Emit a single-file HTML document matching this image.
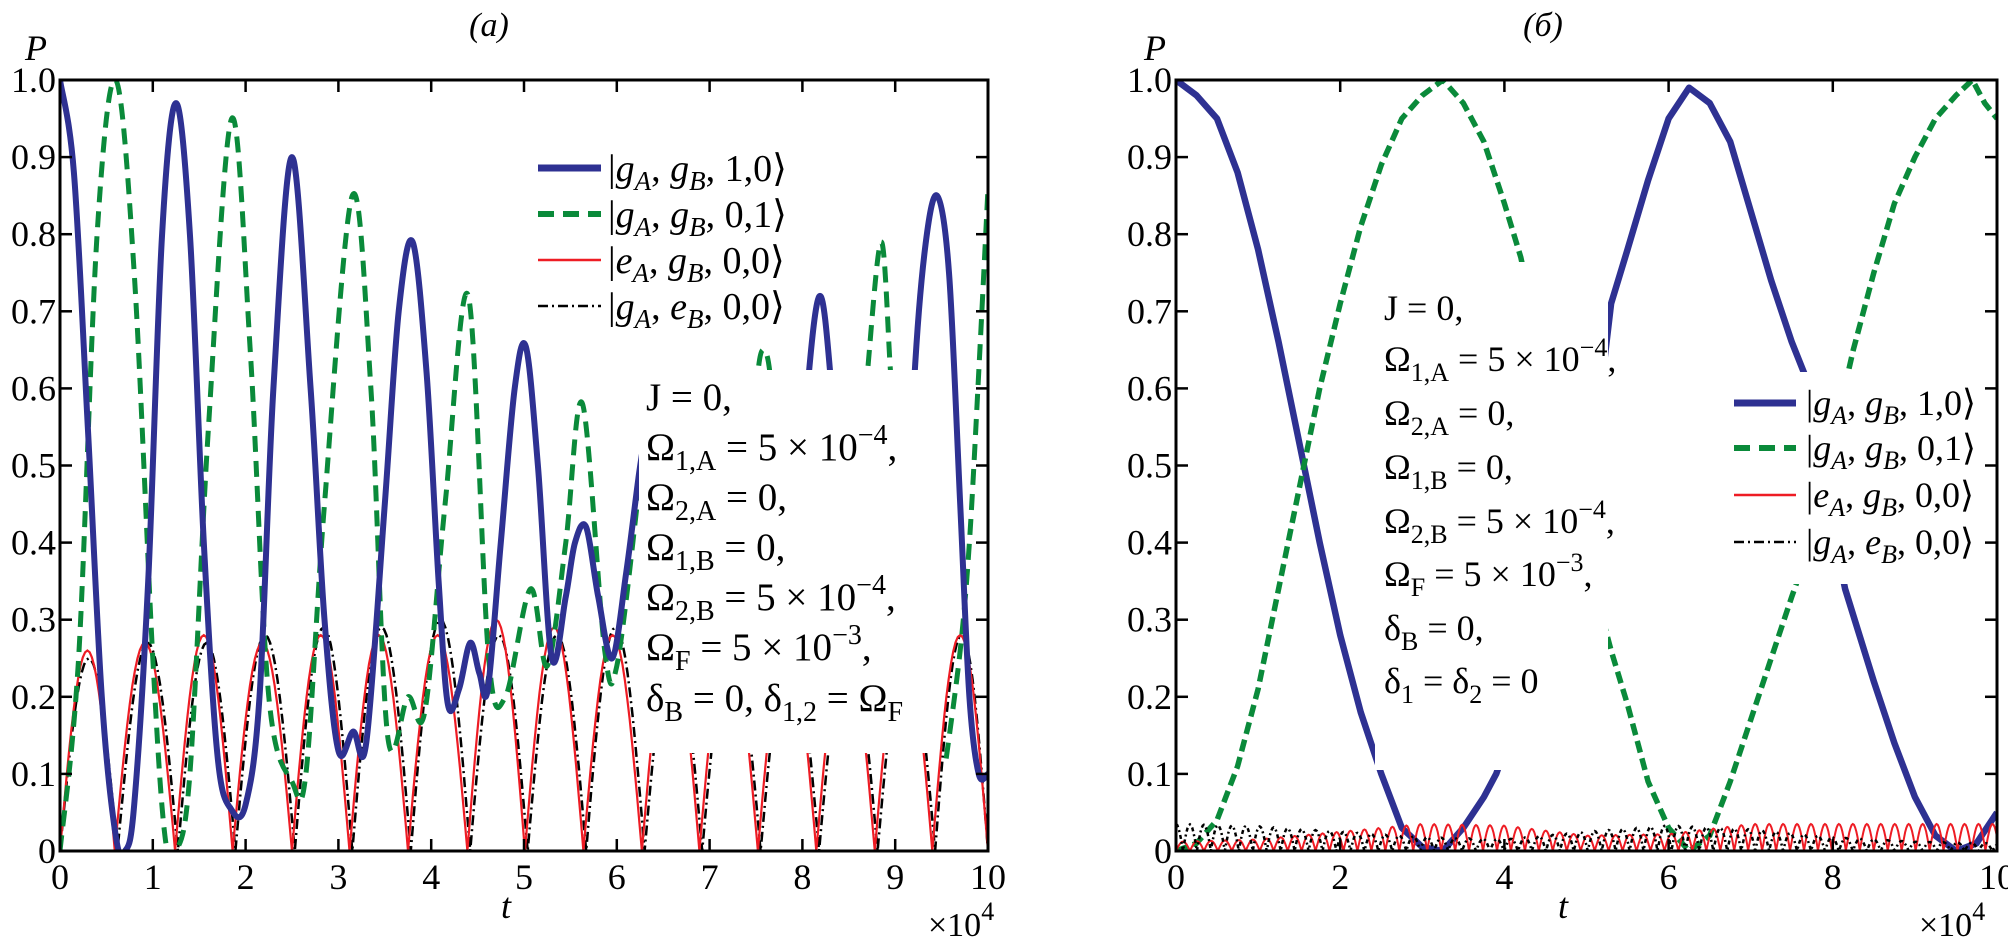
<!DOCTYPE html>
<html><head><meta charset="utf-8">
<style>
html,body{margin:0;padding:0;background:#fff;}
svg{display:block;font-family:"Liberation Serif","DejaVu Serif",serif;}
</style></head>
<body>
<svg id="fig" width="2008" height="942" viewBox="0 0 2008 942" xmlns="http://www.w3.org/2000/svg">
<defs>
<clipPath id="clipL"><rect x="60" y="80" width="928" height="771"/></clipPath>
<clipPath id="clipR"><rect x="1176" y="80" width="821" height="771"/></clipPath>
</defs>
<g id="panelA">
  <text x="489" y="36" font-size="34" font-style="italic" text-anchor="middle">(<tspan>a</tspan>)</text>
  <text x="36" y="60" font-size="36" font-style="italic" text-anchor="middle">P</text>
  <g id="curvesL" clip-path="url(#clipL)"></g>
  <rect x="639" y="370" width="289" height="383" fill="#fff"/>
  <g id="axesL"></g>
  <g font-size="38">
    <g><line x1="538" y1="168" x2="601" y2="168" stroke="#2e3192" stroke-width="7"/><text x="608" y="181">|<tspan font-style="italic">g</tspan><tspan font-style="italic" font-size="27" dy="9">A</tspan><tspan dy="-9">, </tspan><tspan font-style="italic">g</tspan><tspan font-style="italic" font-size="27" dy="9">B</tspan><tspan dy="-9">, 1,0⟩</tspan></text></g>
    <g><line x1="538" y1="214" x2="601" y2="214" stroke="#0a8a3a" stroke-width="6" stroke-dasharray="16 9"/><text x="608" y="227">|<tspan font-style="italic">g</tspan><tspan font-style="italic" font-size="27" dy="9">A</tspan><tspan dy="-9">, </tspan><tspan font-style="italic">g</tspan><tspan font-style="italic" font-size="27" dy="9">B</tspan><tspan dy="-9">, 0,1⟩</tspan></text></g>
    <g><line x1="538" y1="260" x2="601" y2="260" stroke="#ee1c24" stroke-width="2.5"/><text x="608" y="273">|<tspan font-style="italic">e</tspan><tspan font-style="italic" font-size="27" dy="9">A</tspan><tspan dy="-9">, </tspan><tspan font-style="italic">g</tspan><tspan font-style="italic" font-size="27" dy="9">B</tspan><tspan dy="-9">, 0,0⟩</tspan></text></g>
    <g><line x1="538" y1="306" x2="601" y2="306" stroke="#000" stroke-width="2.5" stroke-dasharray="10 4 2 4"/><text x="608" y="319">|<tspan font-style="italic">g</tspan><tspan font-style="italic" font-size="27" dy="9">A</tspan><tspan dy="-9">, </tspan><tspan font-style="italic">e</tspan><tspan font-style="italic" font-size="27" dy="9">B</tspan><tspan dy="-9">, 0,0⟩</tspan></text></g>
  </g>
  <g font-size="39">
    <text x="646" y="410">J = 0,</text>
    <text x="646" y="460">Ω<tspan font-size="28" dy="10">1,A</tspan><tspan dy="-10"> = 5 × 10</tspan><tspan font-size="28" dy="-16">−4</tspan><tspan dy="16">,</tspan></text>
    <text x="646" y="510">Ω<tspan font-size="28" dy="10">2,A</tspan><tspan dy="-10"> = 0,</tspan></text>
    <text x="646" y="560">Ω<tspan font-size="28" dy="10">1,B</tspan><tspan dy="-10"> = 0,</tspan></text>
    <text x="646" y="610">Ω<tspan font-size="28" dy="10">2,B</tspan><tspan dy="-10"> = 5 × 10</tspan><tspan font-size="28" dy="-16">−4</tspan><tspan dy="16">,</tspan></text>
    <text x="646" y="660">Ω<tspan font-size="28" dy="10">F</tspan><tspan dy="-10"> = 5 × 10</tspan><tspan font-size="28" dy="-16">−3</tspan><tspan dy="16">,</tspan></text>
    <text x="646" y="711">δ<tspan font-size="28" dy="10">B</tspan><tspan dy="-10"> = 0, δ</tspan><tspan font-size="28" dy="10">1,2</tspan><tspan dy="-10"> = Ω</tspan><tspan font-size="28" dy="10">F</tspan></text>
  </g>
  <text x="506" y="918" font-size="36" font-style="italic" text-anchor="middle">t</text>
  <text x="928" y="936" font-size="34">×10<tspan font-size="26" dy="-16">4</tspan></text>
</g>

<g id="panelB">
  <text x="1543" y="36" font-size="34" font-style="italic" text-anchor="middle">(б)</text>
  <text x="1155" y="60" font-size="36" font-style="italic" text-anchor="middle">P</text>
  <g id="curvesR" clip-path="url(#clipR)"></g>
  <rect x="1375" y="262" width="233" height="508" fill="#fff"/>
  <rect x="1720" y="372" width="270" height="212" fill="#fff"/>
  <g id="axesR"></g>
  <g font-size="36">
    <g><line x1="1734" y1="403" x2="1796" y2="403" stroke="#2e3192" stroke-width="7"/><text x="1806" y="415">|<tspan font-style="italic">g</tspan><tspan font-style="italic" font-size="26" dy="9">A</tspan><tspan dy="-9">, </tspan><tspan font-style="italic">g</tspan><tspan font-style="italic" font-size="26" dy="9">B</tspan><tspan dy="-9">, 1,0⟩</tspan></text></g>
    <g><line x1="1734" y1="448" x2="1796" y2="448" stroke="#0a8a3a" stroke-width="6" stroke-dasharray="16 9"/><text x="1806" y="460">|<tspan font-style="italic">g</tspan><tspan font-style="italic" font-size="26" dy="9">A</tspan><tspan dy="-9">, </tspan><tspan font-style="italic">g</tspan><tspan font-style="italic" font-size="26" dy="9">B</tspan><tspan dy="-9">, 0,1⟩</tspan></text></g>
    <g><line x1="1734" y1="495" x2="1796" y2="495" stroke="#ee1c24" stroke-width="2.5"/><text x="1806" y="507">|<tspan font-style="italic">e</tspan><tspan font-style="italic" font-size="26" dy="9">A</tspan><tspan dy="-9">, </tspan><tspan font-style="italic">g</tspan><tspan font-style="italic" font-size="26" dy="9">B</tspan><tspan dy="-9">, 0,0⟩</tspan></text></g>
    <g><line x1="1734" y1="542" x2="1796" y2="542" stroke="#000" stroke-width="2.5" stroke-dasharray="10 4 2 4"/><text x="1806" y="554">|<tspan font-style="italic">g</tspan><tspan font-style="italic" font-size="26" dy="9">A</tspan><tspan dy="-9">, </tspan><tspan font-style="italic">e</tspan><tspan font-style="italic" font-size="26" dy="9">B</tspan><tspan dy="-9">, 0,0⟩</tspan></text></g>
  </g>
  <g font-size="36">
    <text x="1384" y="320">J = 0,</text>
    <text x="1384" y="371">Ω<tspan font-size="26" dy="10">1,A</tspan><tspan dy="-10"> = 5 × 10</tspan><tspan font-size="26" dy="-15">−4</tspan><tspan dy="15">,</tspan></text>
    <text x="1384" y="425">Ω<tspan font-size="26" dy="10">2,A</tspan><tspan dy="-10"> = 0,</tspan></text>
    <text x="1384" y="479">Ω<tspan font-size="26" dy="10">1,B</tspan><tspan dy="-10"> = 0,</tspan></text>
    <text x="1384" y="533">Ω<tspan font-size="26" dy="10">2,B</tspan><tspan dy="-10"> = 5 × 10</tspan><tspan font-size="26" dy="-15">−4</tspan><tspan dy="15">,</tspan></text>
    <text x="1384" y="586">Ω<tspan font-size="26" dy="10">F</tspan><tspan dy="-10"> = 5 × 10</tspan><tspan font-size="26" dy="-15">−3</tspan><tspan dy="15">,</tspan></text>
    <text x="1384" y="640">δ<tspan font-size="26" dy="10">B</tspan><tspan dy="-10"> = 0,</tspan></text>
    <text x="1384" y="693">δ<tspan font-size="26" dy="10">1</tspan><tspan dy="-10"> = δ</tspan><tspan font-size="26" dy="10">2</tspan><tspan dy="-10"> = 0</tspan></text>
  </g>
  <text x="1563" y="918" font-size="36" font-style="italic" text-anchor="middle">t</text>
  <text x="1919" y="936" font-size="34">×10<tspan font-size="26" dy="-16">4</tspan></text>
</g>
</svg>
<script>
// ---------- Panel (a) data ----------
const aBlueT = [0,0.15,0.3,0.45,0.6,0.7,0.8,0.95,1.1,1.25,1.4,1.55,1.7,1.85,2.0,2.15,2.3,2.5,2.7,2.85,3.0,3.16,3.3,3.5,3.65,3.8,3.95,4.08,4.18,4.3,4.42,4.52,4.61,4.75,4.9,5.02,5.15,5.3,5.45,5.55,5.67,5.8,5.95,6.1,6.24,6.32,null,7.95,8.07,8.19,8.3,8.42,null,9.1,9.2,9.32,9.45,9.58,9.7,9.8,9.9,10];
const aBlueV = [1.0,0.88,0.55,0.2,0.02,0.0,0.06,0.35,0.8,0.97,0.8,0.4,0.12,0.053,0.06,0.2,0.6,0.9,0.6,0.3,0.13,0.155,0.14,0.45,0.7,0.79,0.62,0.35,0.19,0.21,0.27,0.23,0.21,0.4,0.6,0.654,0.5,0.25,0.33,0.4,0.42,0.33,0.25,0.36,0.49,0.55,null,0.4,0.62,0.72,0.62,0.4,null,0.3,0.6,0.78,0.85,0.75,0.45,0.2,0.1,0.1];
const aGreenT = [0,0.2,0.4,0.6,0.8,1.0,1.13,1.25,1.4,1.6,1.85,2.05,2.25,2.5,2.65,2.85,3.15,3.35,3.53,3.75,3.93,4.15,4.4,4.62,4.8,5.07,5.25,5.45,5.63,5.87,6.0,6.22,6.3,null,7.45,7.52,7.58,7.65,7.72,null,8.62,8.7,8.85,8.95,9.02,null,9.55,9.7,9.8,9.9,10];
const aGreenV = [0,0.25,0.8,1.0,0.75,0.25,0.02,0.0,0.1,0.55,0.95,0.65,0.2,0.09,0.1,0.45,0.85,0.6,0.15,0.2,0.18,0.45,0.72,0.25,0.2,0.34,0.24,0.4,0.58,0.26,0.24,0.45,0.55,null,0.5,0.62,0.65,0.62,0.5,null,0.5,0.62,0.79,0.62,0.5,null,0.12,0.26,0.4,0.62,0.86];
const aRedZeroT = [0,0.59,1.24,1.86,2.5,3.12,3.75,4.39,5.01,5.64,6.27,6.89,7.52,8.15,8.78,9.4,10];
const aRedPeakV = [0.26,0.27,0.28,0.27,0.28,0.28,0.28,0.3,0.29,0.28,0.28,0.28,0.28,0.28,0.28,0.28];
const aBlackZeroT = [0,0.62,1.27,1.89,2.53,3.15,3.78,4.42,5.04,5.67,6.3,6.92,7.55,8.18,8.81,9.43,10];
const aBlackPeakV = [0.25,0.27,0.27,0.28,0.29,0.29,0.3,0.28,0.28,0.29,0.27,0.27,0.27,0.27,0.27,0.28];
const aYTicks = [0,0.1,0.2,0.3,0.4,0.5,0.6,0.7,0.8,0.9,1.0];
const aYTickLabels = ["0","0.1","0.2","0.3","0.4","0.5","0.6","0.7","0.8","0.9","1.0"];
const aXTicks = [0,1,2,3,4,5,6,7,8,9,10];
const aXTickLabels = ["0","1","2","3","4","5","6","7","8","9","10"];

// ---------- Panel (b) data ----------
const bBlueT = [0,0.25,0.5,0.75,1,1.25,1.5,1.75,2,2.25,2.5,2.75,3,3.25,3.5,3.75,3.9,4.0,null,5.2,5.3,5.5,5.75,6,6.25,6.5,6.75,7,7.25,7.5,7.65,7.8,null,8.0,8.15,8.5,8.75,9,9.25,9.5,9.75,10];
const bBlueV = [1.0,0.98,0.95,0.88,0.78,0.66,0.53,0.4,0.28,0.18,0.1,0.03,0.005,0.0,0.03,0.07,0.1,0.13,null,0.62,0.71,0.78,0.87,0.95,0.99,0.97,0.92,0.83,0.74,0.66,0.62,0.55,null,0.42,0.34,0.22,0.14,0.07,0.02,0.0,0.01,0.05];
const bGreenT = [0,0.25,0.5,0.75,1,1.25,1.5,1.75,2,2.25,2.5,2.75,3,3.25,3.5,3.75,4,4.2,4.3,null,5.2,5.3,5.5,5.75,6,6.25,6.5,6.75,7,7.25,7.5,7.6,7.7,null,8.1,8.25,8.5,8.75,9,9.25,9.5,9.7,9.85,10];
const bGreenV = [0,0.01,0.04,0.11,0.21,0.34,0.47,0.6,0.71,0.81,0.89,0.95,0.98,1.0,0.97,0.92,0.84,0.77,0.72,null,0.3,0.26,0.19,0.09,0.03,0.0,0.02,0.09,0.17,0.25,0.33,0.36,0.4,null,0.58,0.65,0.75,0.84,0.9,0.95,0.98,1.0,0.97,0.95];
const bEnvT = [0,1,2,3,4,5,6,7,8,9,10];
const bRedAmp = [0.012,0.015,0.025,0.035,0.033,0.02,0.022,0.035,0.035,0.035,0.035];
const bBlackAmp = [0.035,0.032,0.025,0.018,0.015,0.025,0.033,0.028,0.018,0.012,0.01];
const bYTicks = [0,0.1,0.2,0.3,0.4,0.5,0.6,0.7,0.8,0.9,1.0];
const bYTickLabels = ["0","0.1","0.2","0.3","0.4","0.5","0.6","0.7","0.8","0.9","1.0"];
const bXTicks = [0,2,4,6,8,10];
const bXTickLabels = ["0","2","4","6","8","10"];

const NS = "http://www.w3.org/2000/svg";
function mk(tag, attrs, parent){const e=document.createElementNS(NS,tag);for(const k in attrs)e.setAttribute(k,attrs[k]);parent.appendChild(e);return e;}

function axisFns(x0,x1,y0,y1){return {X:t=>x0+(x1-x0)*t/10, Y:v=>y1-(y1-y0)*v};}
const A = axisFns(60,988,80,851);
const B = axisFns(1176,1997,80,851);

function segments(T,V){const segs=[];let cur=[];for(let i=0;i<T.length;i++){if(T[i]===null||V[i]===null){if(cur.length)segs.push(cur);cur=[];}else cur.push([T[i],V[i]]);}if(cur.length)segs.push(cur);return segs;}
function smoothPath(pts,ax){const P=pts.map(p=>[ax.X(p[0]),ax.Y(p[1])]);let d="M"+P[0][0].toFixed(1)+","+P[0][1].toFixed(1);for(let i=0;i<P.length-1;i++){const p0=P[i-1]||P[i],p1=P[i],p2=P[i+1],p3=P[i+2]||P[i+1];const c1=[p1[0]+(p2[0]-p0[0])/6,p1[1]+(p2[1]-p0[1])/6];const c2=[p2[0]-(p3[0]-p1[0])/6,p2[1]-(p3[1]-p1[1])/6];d+="C"+c1[0].toFixed(1)+","+c1[1].toFixed(1)+" "+c2[0].toFixed(1)+","+c2[1].toFixed(1)+" "+p2[0].toFixed(1)+","+p2[1].toFixed(1);}return d;}
function linePath(pts,ax){return pts.map((p,i)=>(i?"L":"M")+ax.X(p[0]).toFixed(1)+","+ax.Y(p[1]).toFixed(1)).join("");}
function humpPath(Z,P,ax){let d="";for(let i=0;i<P.length;i++){const a=Z[i],b=Z[i+1];for(let k=0;k<=24;k++){const u=k/24;const t=a+(b-a)*u;const v=P[i]*Math.sin(Math.PI*u);d+=((i===0&&k===0)?"M":"L")+ax.X(t).toFixed(1)+","+ax.Y(v).toFixed(1);}}return d;}
function envAt(T,A,t){for(let i=0;i<T.length-1;i++){if(t<=T[i+1]){const u=(t-T[i])/(T[i+1]-T[i]);return A[i]+(A[i+1]-A[i])*u;}}return A[A.length-1];}
function fastPath(T,Amp,period,phase,ax){let d="";const n=Math.round(10/period*12);for(let k=0;k<=n;k++){const t=10*k/n;const v=envAt(T,Amp,t)*Math.abs(Math.sin(Math.PI*(t+phase)/period));d+=(k?"L":"M")+ax.X(t).toFixed(1)+","+ax.Y(v).toFixed(1);}return d;}

// Panel a curves
const gL = document.getElementById("curvesL");
let e;
e = mk("path",{d:humpPath(aBlackZeroT,aBlackPeakV,A),fill:"none",stroke:"#000","stroke-width":2.5,"stroke-dasharray":"10 4 2 4"},gL);


e = mk("path",{d:humpPath(aRedZeroT,aRedPeakV,A),fill:"none",stroke:"#ee1c24","stroke-width":2.2},gL);


segments(aGreenT,aGreenV).forEach(s=>{
  e = mk("path",{d:smoothPath(s,A),fill:"none",stroke:"#0a8a3a","stroke-width":5,"stroke-dasharray":"16 9"},gL);
  
  
});
segments(aBlueT,aBlueV).forEach(s=>{
  e = mk("path",{d:smoothPath(s,A),fill:"none",stroke:"#2e3192","stroke-width":6,"stroke-linejoin":"round"},gL);
  
  
});

// Panel b curves
const gR = document.getElementById("curvesR");
segments(bBlueT,bBlueV).forEach(s=>{
  e = mk("path",{d:linePath(s,B),fill:"none",stroke:"#2e3192","stroke-width":6.5,"stroke-linejoin":"round"},gR);
  
  
});
segments(bGreenT,bGreenV).forEach(s=>{
  e = mk("path",{d:linePath(s,B),fill:"none",stroke:"#0a8a3a","stroke-width":5.5,"stroke-dasharray":"12 6"},gR);
  
  
});
e = mk("path",{d:fastPath(bEnvT,bRedAmp,0.17,0,B),fill:"none",stroke:"#ee1c24","stroke-width":2},gR);


e = mk("path",{d:fastPath(bEnvT,bBlackAmp,0.17,0.085,B),fill:"none",stroke:"#000","stroke-width":2.5,"stroke-dasharray":"4 3 2 3"},gR);



function drawAxes(g,ax,x0,x1,y0,y1,yT,yL,xT,xL,prefix){
  const fr = mk("rect",{x:x0,y:y0,width:x1-x0,height:y1-y0,fill:"none",stroke:"#000","stroke-width":3},g);
  
  
  yT.forEach((v,i)=>{
    const y=ax.Y(v);
    mk("line",{x1:x0,y1:y,x2:x0+12,y2:y,stroke:"#000","stroke-width":2.5},g);
    mk("line",{x1:x1,y1:y,x2:x1-12,y2:y,stroke:"#000","stroke-width":2.5},g);
    const t = mk("text",{x:x0-4,y:y+12,"font-size":36,"text-anchor":"end"},g);
    t.textContent=yL[i];
    
    
  });
  xT.forEach((v,i)=>{
    const x=ax.X(v);
    mk("line",{x1:x,y1:y1,x2:x,y2:y1-12,stroke:"#000","stroke-width":2.5},g);
    mk("line",{x1:x,y1:y0,x2:x,y2:y0+12,stroke:"#000","stroke-width":2.5},g);
    const t = mk("text",{x:x,y:889,"font-size":36,"text-anchor":"middle"},g);
    t.textContent=xL[i];
    
    
  });
}
drawAxes(document.getElementById("axesL"),A,60,988,80,851,aYTicks,aYTickLabels,aXTicks,aXTickLabels,'panel-a');
drawAxes(document.getElementById("axesR"),B,1176,1997,80,851,bYTicks,bYTickLabels,bXTicks,bXTickLabels,'panel-b');
</script>
</body></html>
